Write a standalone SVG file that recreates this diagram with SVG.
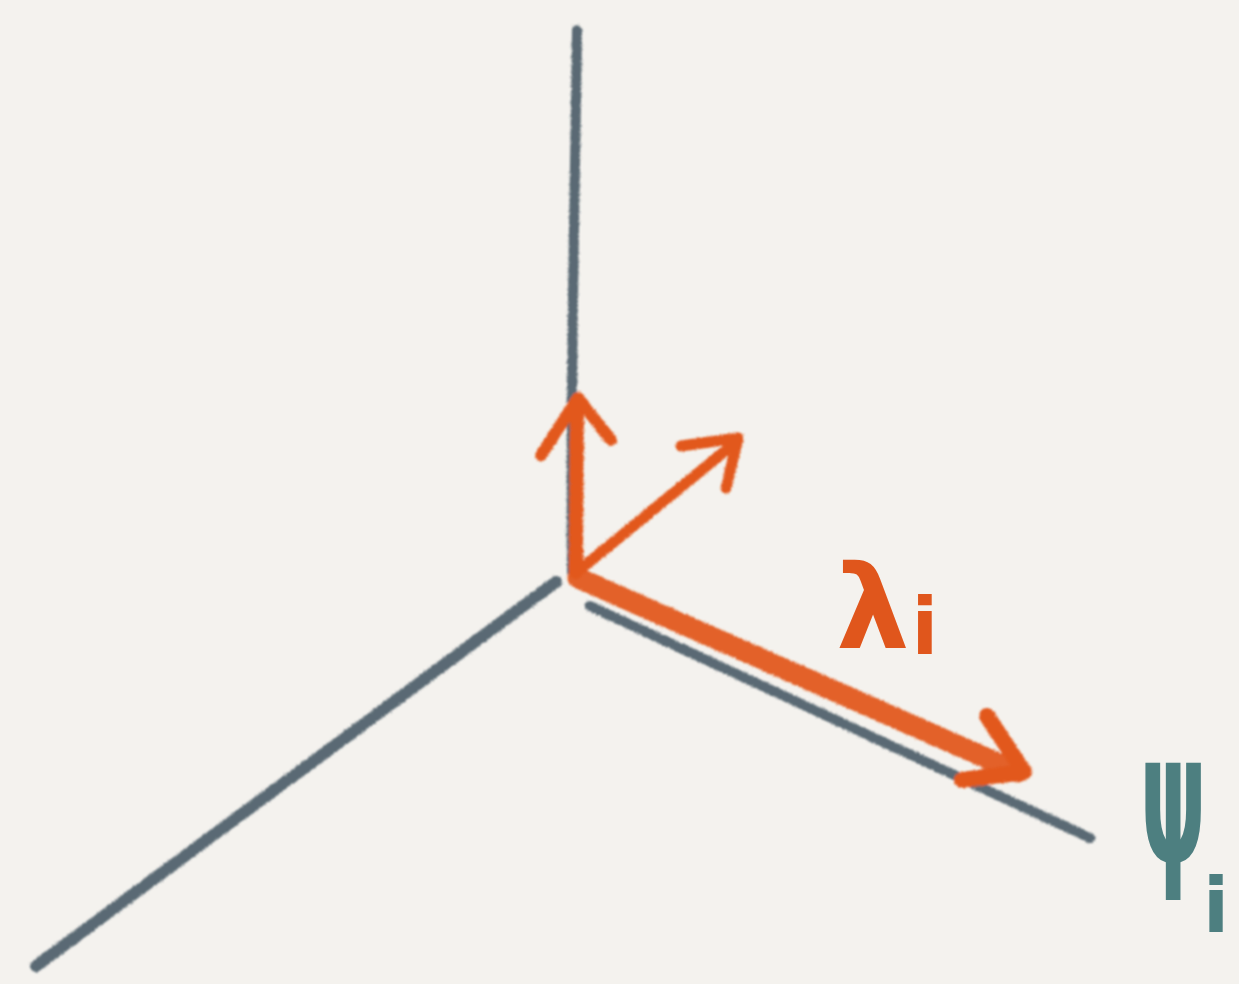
<svg xmlns="http://www.w3.org/2000/svg" width="1239" height="984" viewBox="0 0 1239 984">
<style>
.axis{stroke:#4d5d69;stroke-linecap:round;fill:none;opacity:0.92}
.vec{stroke:#e2581f;stroke-linecap:round;stroke-linejoin:round;fill:none}
.lbl{font-family:"DejaVu Sans",sans-serif;font-weight:bold}
</style>
<defs>
<filter id="sketch" x="-5%" y="-5%" width="110%" height="110%">
<feTurbulence type="fractalNoise" baseFrequency="0.9" numOctaves="2" seed="3" result="n"/>
<feDisplacementMap in="SourceGraphic" in2="n" scale="4" xChannelSelector="R" yChannelSelector="G" result="d"/>
<feGaussianBlur in="d" stdDeviation="1"/>
</filter>
</defs>
<rect width="1239" height="984" fill="#f4f2ee"/>
<g id="connectors" filter="url(#sketch)">
<g id="axis-vertical"><path class="axis" d="M577,30 C575,200 570,380 572,572" stroke-width="10"/></g>
<g id="axis-left"><path class="axis" d="M556,582 L36,966" stroke-width="12"/></g>
<g id="axis-right"><path class="axis" d="M590,606 L1090,838" stroke-width="10"/></g>
<g id="vec-up">
<path class="vec" d="M576,572 L577,400" stroke-width="14"/>
<path class="vec" d="M541,455 L578,398 L611,440" stroke-width="12"/>
</g>
<g id="vec-diag">
<path class="vec" d="M582,568 L736,442" stroke-width="11"/>
<path class="vec" d="M681,446 L738,438 L726,488" stroke-width="11"/>
</g>
<g id="vec-right">
<path class="vec" d="M578,578 L1018,772" stroke-width="21" opacity="0.95"/>
<path class="vec" d="M987,716 L1024,772 L962,780" stroke-width="16"/>
</g>
</g>
<g id="label-lambda">
<text class="lbl" x="836" y="648" font-size="116" fill="#e0561c">λ<tspan font-size="78" dx="2" dy="6">i</tspan></text>
</g>
<g id="label-psi">
<text class="lbl" transform="translate(1140,862) scale(0.6,1.3)" font-size="140" fill="#4d7f80">ψ</text>
<text class="lbl" x="1203" y="932" font-size="76" fill="#4d7f80">i</text>
</g>
</svg>
